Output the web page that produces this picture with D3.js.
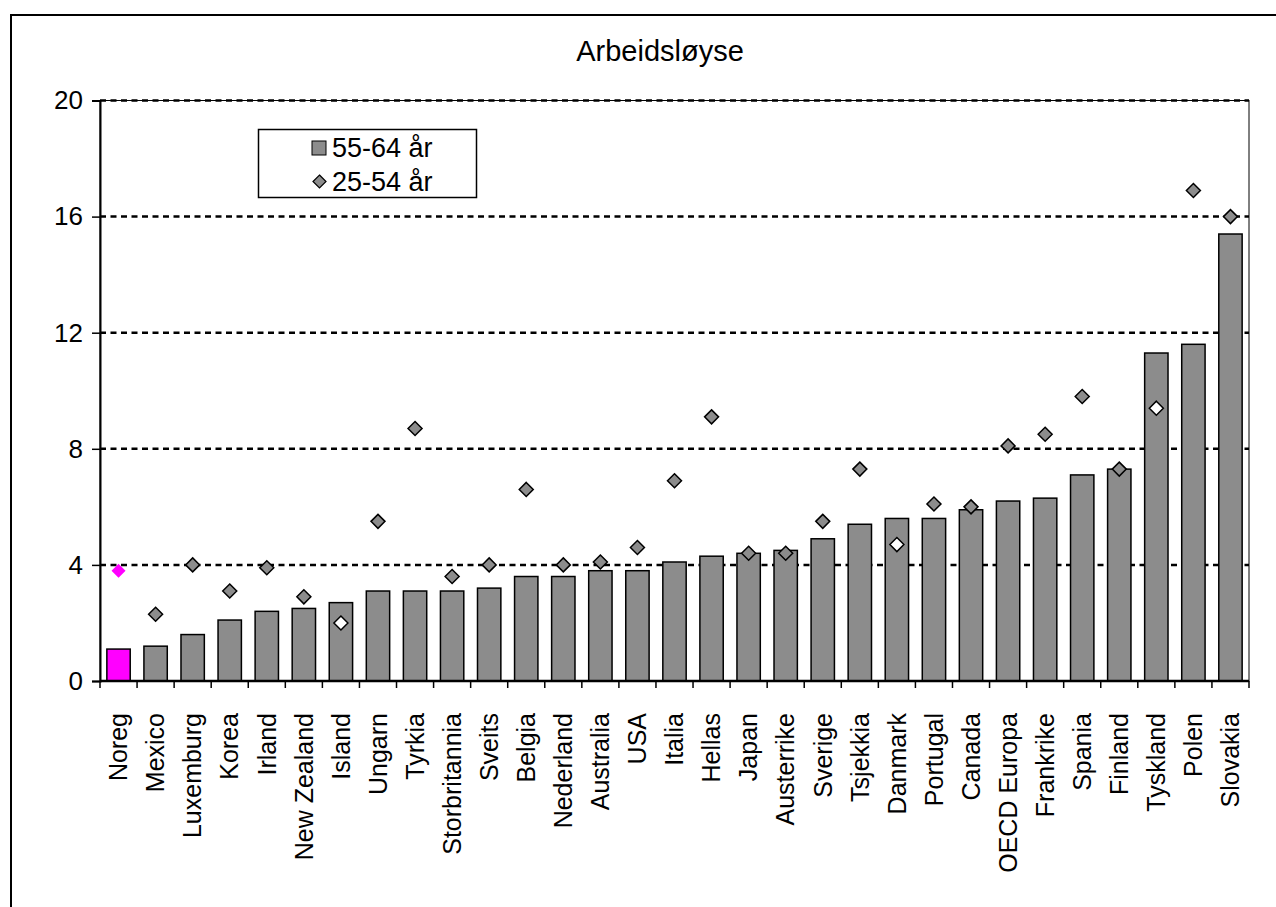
<!DOCTYPE html>
<html>
<head>
<meta charset="utf-8">
<script src="https://cdn.jsdelivr.net/npm/d3@7"></script>
<style>
  html, body { margin: 0; padding: 0; background: #fff; }
  svg { display: block; }
  text { font-family: "Liberation Sans", Arial, sans-serif; fill: #000; }
</style>
</head>
<body>
<svg id="chart" width="1276" height="907"></svg>
<script>
// Unemployment by country, two age groups (percent)
const categories = ["Noreg", "Mexico", "Luxemburg", "Korea", "Irland", "New Zealand", "Island",
  "Ungarn", "Tyrkia", "Storbritannia", "Sveits", "Belgia", "Nederland", "Australia", "USA",
  "Italia", "Hellas", "Japan", "Austerrike", "Sverige", "Tsjekkia", "Danmark", "Portugal",
  "Canada", "OECD Europa", "Frankrike", "Spania", "Finland", "Tyskland", "Polen", "Slovakia"];

// 55-64 years (bars)
const older = [1.1, 1.2, 1.6, 2.1, 2.4, 2.5, 2.7, 3.1, 3.1, 3.1, 3.2, 3.6, 3.6, 3.8, 3.8,
  4.1, 4.3, 4.4, 4.5, 4.9, 5.4, 5.6, 5.6, 5.9, 6.2, 6.3, 7.1, 7.3, 11.3, 11.6, 15.4];

// 25-54 years (diamond markers)
const prime = [3.8, 2.3, 4.0, 3.1, 3.9, 2.9, 2.0, 5.5, 8.7, 3.6, 4.0, 6.6, 4.0, 4.1, 4.6,
  6.9, 9.1, 4.4, 4.4, 5.5, 7.3, 4.7, 6.1, 6.0, 8.1, 8.5, 9.8, 7.3, 9.4, 16.9, 16.0];

const yTicks = [0, 4, 8, 12, 16, 20];
const seriesNames = ["55-64 år", "25-54 år"];
const title = "Arbeidsløyse";
const highlight = "Noreg";

const svg = d3.select("#chart");
const plot = { left: 100, right: 1249, top: 100.5, bottom: 681 };
const barGray = "#8c8c8c";
const pink = "#ff00ff";
const half = 7; // half diagonal of a diamond marker

// outer frame
svg.append("rect")
  .attr("x", 11).attr("y", 15).attr("width", 1300).attr("height", 1000)
  .attr("fill", "none").attr("stroke", "#000").attr("stroke-width", 2);

const x = d3.scaleBand().domain(categories).range([plot.left, plot.right])
  .paddingInner(0.37).paddingOuter(0.185);
const y = d3.scaleLinear().domain([0, 20]).range([plot.bottom, plot.top]);

// plot area border
svg.append("rect")
  .attr("x", plot.left).attr("y", plot.top)
  .attr("width", plot.right - plot.left).attr("height", plot.bottom - plot.top)
  .attr("fill", "none").attr("stroke", "#000").attr("stroke-width", 1);

// dashed gridlines
svg.append("g").selectAll("line").data(yTicks.filter(d => d > 0)).join("line")
  .attr("x1", plot.left).attr("x2", plot.right)
  .attr("y1", d => y(d)).attr("y2", d => y(d))
  .attr("stroke", "#000").attr("stroke-width", 2.5)
  .attr("stroke-dasharray", "6,4.5");

// bars
svg.append("g").selectAll("rect").data(categories).join("rect")
  .attr("x", d => x(d))
  .attr("y", (d, i) => y(older[i]))
  .attr("width", x.bandwidth())
  .attr("height", (d, i) => y(0) - y(older[i]))
  .attr("fill", d => d === highlight ? pink : barGray)
  .attr("stroke", "#000").attr("stroke-width", 1.5);

// diamond markers
const diamond = (cx, cy, r) => `M${cx},${cy - r}L${cx + r},${cy}L${cx},${cy + r}L${cx - r},${cy}Z`;
svg.append("g").selectAll("path").data(categories).join("path")
  .attr("d", (d, i) => diamond(x(d) + x.bandwidth() / 2, y(prime[i]), half))
  .attr("fill", (d, i) => {
    if (d === highlight) return pink;
    return (y(prime[i]) - half > y(older[i])) ? "#fff" : barGray;
  })
  .attr("stroke", d => d === highlight ? "none" : "#000")
  .attr("stroke-width", 1.5);

// y axis
const yAxis = d3.axisLeft(y).tickValues(yTicks).tickSize(8).tickPadding(9).tickFormat(d3.format("d"));
const gy = svg.append("g").attr("transform", `translate(${plot.left},0)`).call(yAxis);
gy.select(".domain").attr("stroke", "#000").attr("stroke-width", 2);
gy.selectAll(".tick line").attr("stroke", "#000").attr("stroke-width", 1.5);
gy.selectAll(".tick text").attr("font-size", 26).attr("font-family", "Liberation Sans, Arial, sans-serif");

// x axis baseline and tick marks at category boundaries
svg.append("line")
  .attr("x1", plot.left).attr("x2", plot.right)
  .attr("y1", plot.bottom).attr("y2", plot.bottom)
  .attr("stroke", "#000").attr("stroke-width", 2.5);
const step = x.step();
const bounds = d3.range(categories.length + 1).map(i => plot.left + i * step);
svg.append("g").selectAll("line").data(bounds).join("line")
  .attr("x1", d => d).attr("x2", d => d)
  .attr("y1", plot.bottom).attr("y2", plot.bottom + 7)
  .attr("stroke", "#000").attr("stroke-width", 1.5);

// category labels (vertical)
svg.append("g").selectAll("text").data(categories).join("text")
  .attr("transform", d => `translate(${x(d) + x.bandwidth() / 2},713) rotate(-90)`)
  .attr("text-anchor", "end")
  .attr("dy", "0.35em")
  .attr("font-size", 25)
  .text(d => d);

// title
svg.append("text")
  .attr("x", 660).attr("y", 61)
  .attr("text-anchor", "middle")
  .attr("font-size", 29)
  .text(title);

// legend
const lg = svg.append("g");
lg.append("rect")
  .attr("x", 258.5).attr("y", 129.5).attr("width", 218).attr("height", 68)
  .attr("fill", "#fff").attr("stroke", "#000").attr("stroke-width", 1.5);
lg.append("rect")
  .attr("x", 312).attr("y", 141).attr("width", 14).attr("height", 14)
  .attr("fill", barGray).attr("stroke", "#000").attr("stroke-width", 1);
lg.append("path")
  .attr("d", diamond(319.5, 181.5, 6.5))
  .attr("fill", barGray).attr("stroke", "#000").attr("stroke-width", 1.2);
lg.selectAll("text.item").data(seriesNames).join("text")
  .attr("class", "item")
  .attr("x", 332)
  .attr("y", (d, i) => 148 + i * 33.5)
  .attr("dy", "0.35em")
  .attr("font-size", 27)
  .text(d => d);
</script>
</body>
</html>
